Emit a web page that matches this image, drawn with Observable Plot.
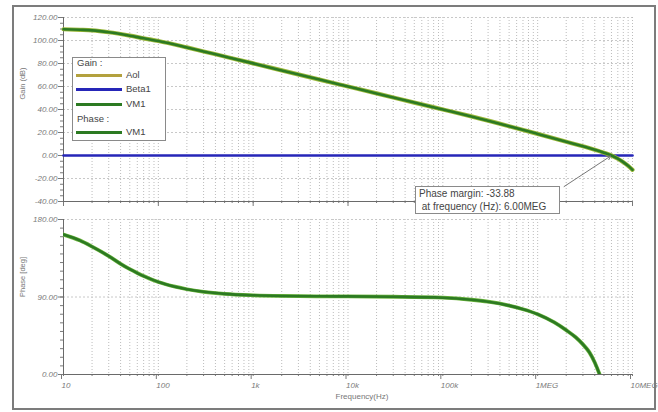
<!DOCTYPE html>
<html><head><meta charset="utf-8">
<script src="https://cdn.jsdelivr.net/npm/d3@7"></script>
<script src="https://cdn.jsdelivr.net/npm/@observablehq/plot@0.6"></script>
<style>
body{margin:0;width:658px;height:412px;position:relative;background:#fff;font-family:"Liberation Sans",Arial,sans-serif;overflow:hidden}
#frame{position:absolute;left:12px;top:5px;width:644px;height:405px;border:2px solid #7c7c7c;box-sizing:border-box;z-index:5;pointer-events:none}
#gain,#phase{position:absolute;left:0}
#gain{top:0}
#phase{top:210px}
#legend{position:absolute;left:72px;top:57px;width:94px;height:84px;border:1px solid #8a8a8a;background:#fff;box-sizing:border-box;z-index:3;color:#444;font-size:9.5px}
#legend .t{position:absolute;left:4px;line-height:10px;white-space:nowrap}
#legend .sw{position:absolute;left:3px;width:46px;height:3px}
#legend .lb{position:absolute;left:53px;line-height:10px}
#annot{position:absolute;left:415px;top:186px;width:145px;height:28px;border:1px solid #8a8a8a;background:#fff;box-sizing:border-box;z-index:3;color:#444;font-size:10px;line-height:13px;padding:0 0 0 3px;white-space:pre}
</style></head>
<body>
<div id="frame"></div>
<div id="gain"></div>
<div id="phase"></div>
<div id="legend"></div>
<div id="annot"></div>
<script>
// ---- data ----
const freqTicks = [10, 100, 1e3, 1e4, 1e5, 1e6, 1e7];
const freqLabels = ["10", "100", "1k", "10k", "100k", "1MEG", "10MEG"];
const gainTicks = [-40, -20, 0, 20, 40, 60, 80, 100, 120];
const phaseTicks = [0, 90, 180];

const gainFreq = [10, 15, 20, 30, 50, 70, 100, 200, 300, 500, 1e3, 2e3, 5e3, 1e4, 2e4, 5e4, 1e5, 2e5, 5e5, 1e6, 2e6, 3e6, 4e6, 5e6, 6e6, 7e6, 8e6, 9e6, 1e7];
const gainDb   = [109.8, 109.3, 108.8, 107.2, 104.2, 101.9, 99.6, 94.0, 90.5, 86.1, 80.1, 74.0, 66.0, 60.0, 54.0, 46.0, 40.0, 34.0, 25.5, 18.8, 12.0, 8.0, 5.0, 2.4, 0.0, -2.8, -5.8, -9.0, -12.5];

const betaFreq = [10, 1e7];
const betaDb = [0, 0];

const phaseFreq = [10, 15, 20, 30, 40, 50, 60, 70, 80, 100, 150, 200, 300, 500, 1e3, 2e3, 5e3, 1e4, 3e4, 1e5, 2e5, 3e5, 5e5, 7e5, 1e6, 1.5e6, 2e6, 2.5e6, 3e6, 3.5e6, 4e6, 4.5e6, 5e6, 6e6];
const phaseDeg  = [162.5, 155.5, 148.5, 137.5, 128.5, 122.3, 117.8, 114.3, 111.6, 107.5, 102, 99, 96, 93.6, 92, 91.2, 90.8, 90.7, 90.3, 89.2, 86.8, 84.5, 80, 75.8, 70, 60.5, 51.5, 43.5, 35, 26, 14, 0, -15, -33.88];

const legendHeaders = ["Gain :", "Phase :"];
const legendNames = ["Aol", "Beta1", "VM1", "VM1"];
const legendColors = ["#b3a13e", "#2626b8", "#2c7a22", "#2c7a22"];

const pmFreq = 6.0e6, pmGain = 0;
const pmLines = ["Phase margin: -33.88", " at frequency (Hz): 6.00MEG"];
const pmBoxFreq = 1.9e6, pmBoxGain = -27;

// ---- helpers ----
const minorFreq = [];
for (let k = 1; k <= 6; k++) for (let m = 1; m <= 9; m++) minorFreq.push(m * Math.pow(10, k));
minorFreq.push(1e7);
const gainRows = gainFreq.map((f, i) => ({f, g: gainDb[i]}));
const betaRows = betaFreq.map((f, i) => ({f, g: betaDb[i]}));
const phaseRows = phaseFreq.map((f, i) => ({f, p: phaseDeg[i]}));
const labelOf = new Map(freqTicks.map((t, i) => [t, freqLabels[i]]));

const baseStyle = {fontFamily: "Liberation Sans, Arial, sans-serif", fontSize: "8px", fontStyle: "italic", color: "#7a7a7a", background: "transparent", overflow: "visible"};
const xScale = {type: "log", domain: [10, 1e7]};

const gainPlot = Plot.plot({
  width: 658, height: 210,
  marginLeft: 63, marginRight: 26, marginTop: 17, marginBottom: 9,
  style: baseStyle,
  x: xScale,
  y: {domain: [-40, 120]},
  marks: [
    Plot.gridX({ticks: minorFreq, stroke: "#bcbcbc", strokeOpacity: 1, strokeDasharray: "1,2"}),
    Plot.gridY({ticks: gainTicks, stroke: "#c8c8c8", strokeOpacity: 1, strokeDasharray: "2,2"}),
    Plot.axisY({ticks: d3.range(-40, 121, 5), tickSize: 3, tickFormat: () => "", label: null}),
    Plot.axisY({ticks: gainTicks, tickSize: 5, tickPadding: 1, tickFormat: d => d.toFixed(2), label: null}),
    Plot.axisX({ticks: minorFreq, tickSize: 2, tickFormat: () => "", label: null}),
    Plot.axisX({ticks: freqTicks, tickSize: 5, tickFormat: () => "", label: null}),
    Plot.ruleX([10], {stroke: "#6a6a6a"}),
    Plot.ruleY([-40], {stroke: "#6a6a6a"}),
    Plot.line(betaRows, {x: "f", y: "g", stroke: "#2626b8", strokeWidth: 2.6}),
    Plot.line(gainRows, {x: "f", y: "g", stroke: "#9bb83a", strokeWidth: 4.2, curve: "monotone-x"}),
    Plot.line(gainRows, {x: "f", y: "g", stroke: "#2c7a22", strokeWidth: 2.6, curve: "monotone-x"}),
    Plot.arrow([{x1: pmBoxFreq, y1: pmBoxGain, x2: pmFreq, y2: pmGain}], {x1: "x1", y1: "y1", x2: "x2", y2: "y2", stroke: "#777", strokeWidth: 1, headLength: 6, insetEnd: 1}),
    Plot.text(["Gain (dB)"], {frameAnchor: "left", dx: -41, dy: -10, rotate: -90, fontStyle: "normal", fontSize: 7.5, fill: "#777"})
  ]
});
document.getElementById("gain").appendChild(gainPlot);

const phasePlot = Plot.plot({
  width: 658, height: 202,
  marginLeft: 63, marginRight: 26, marginTop: 9, marginBottom: 38,
  style: baseStyle,
  x: xScale,
  y: {domain: [0, 180]},
  marks: [
    Plot.gridX({ticks: minorFreq, stroke: "#bcbcbc", strokeOpacity: 1, strokeDasharray: "1,2"}),
    Plot.gridY({ticks: phaseTicks, stroke: "#c8c8c8", strokeOpacity: 1, strokeDasharray: "2,2"}),
    Plot.axisY({ticks: d3.range(0, 181, 10), tickSize: 3, tickFormat: () => "", label: null}),
    Plot.axisY({ticks: phaseTicks, tickSize: 5, tickPadding: 1, tickFormat: d => d.toFixed(2), label: null}),
    Plot.axisX({ticks: minorFreq, tickSize: 2, tickFormat: () => "", label: null}),
    Plot.axisX({ticks: freqTicks, tickSize: 5, tickPadding: 3, tickFormat: d => labelOf.get(d), textAnchor: "start", dx: -2, label: null}),
    Plot.ruleX([10], {stroke: "#6a6a6a"}),
    Plot.ruleY([0], {stroke: "#6a6a6a"}),
    Plot.line(phaseRows, {x: "f", y: "p", stroke: "#6fb640", strokeWidth: 3.8, curve: "monotone-x", clip: true}),
    Plot.line(phaseRows, {x: "f", y: "p", stroke: "#2c7a22", strokeWidth: 2.6, curve: "monotone-x", clip: true}),
    Plot.text(["Phase [deg]"], {frameAnchor: "left", dx: -41, rotate: -90, fontStyle: "normal", fontSize: 7.5, fill: "#777"}),
    Plot.text(["Frequency(Hz)"], {frameAnchor: "bottom", dy: 24, dx: 14, fontStyle: "normal", fontSize: 8, fill: "#777"})
  ]
});
document.getElementById("phase").appendChild(phasePlot);

// ---- legend ----
const lg = document.getElementById("legend");
const rowY = [17, 31.5, 46, 74];
let html = `<div class="t" style="top:0px">${legendHeaders[0]}</div>`;
html += `<div class="t" style="top:56px">${legendHeaders[1]}</div>`;
legendNames.forEach((n, i) => {
  html += `<div class="sw" style="top:${rowY[i] - 1.5}px;background:${legendColors[i]}"></div>`;
  html += `<div class="lb" style="top:${rowY[i] - 5.5}px">${n}</div>`;
});
lg.innerHTML = html;

document.getElementById("annot").textContent = pmLines.join("\n");
</script>
</body></html>
